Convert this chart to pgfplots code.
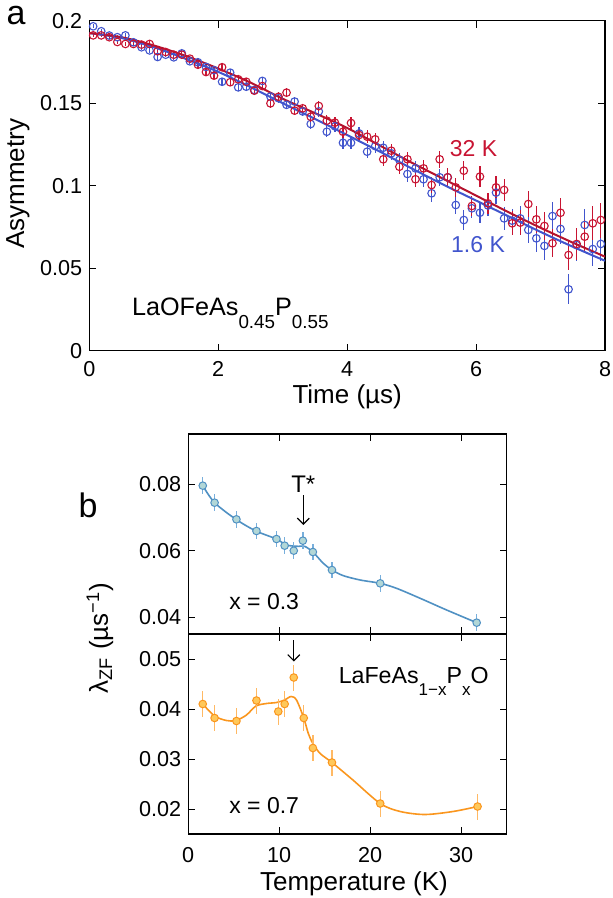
\documentclass[border=0pt]{standalone}
\usepackage{fontspec}
\setmainfont{Liberation Sans}
\usepackage{pgfplots}
\usepackage{pgfplotstable}
\pgfplotsset{compat=1.18}
\usetikzlibrary{arrows.meta}

\definecolor{redA}{RGB}{200,20,50}
\definecolor{blueA}{RGB}{65,85,205}
\definecolor{tealB}{RGB}{80,145,195}
\definecolor{tealbar}{RGB}{120,175,220}
\definecolor{tealfill}{RGB}{178,215,215}
\definecolor{orangeB}{RGB}{250,150,30}
\definecolor{orangebar}{RGB}{255,185,100}
\definecolor{orangefill}{RGB}{255,200,90}

\newcommand\sub[1]{\raisebox{-6.5pt}{\fontsize{9.4}{10}\selectfont #1}}
\newcommand\subb[1]{\raisebox{-6pt}{\fontsize{8.5}{9}\selectfont #1}}

% muSR asymmetry, 1.6 K (b) and 32 K (r), error e
\pgfplotstableread{
t b r e
0.060 0.1966 0.1911 0.0012
0.185 0.1936 0.1911 0.0012
0.310 0.1910 0.1900 0.0013
0.435 0.1900 0.1871 0.0013
0.560 0.1911 0.1859 0.0014
0.685 0.1869 0.1859 0.0014
0.810 0.1839 0.1855 0.0015
0.935 0.1820 0.1859 0.0015
1.060 0.1780 0.1815 0.0016
1.185 0.1794 0.1810 0.0017
1.310 0.1778 0.1794 0.0017
1.435 0.1802 0.1794 0.0018
1.560 0.1754 0.1770 0.0018
1.685 0.1748 0.1733 0.0019
1.810 0.1720 0.1689 0.0020
1.935 0.1700 0.1667 0.0020
2.060 0.1630 0.1718 0.0021
2.185 0.1685 0.1627 0.0022
2.310 0.1596 0.1645 0.0023
2.435 0.1600 0.1630 0.0023
2.560 0.1580 0.1576 0.0024
2.685 0.1635 0.1604 0.0025
2.810 0.1540 0.1499 0.0026
2.935 0.1530 0.1539 0.0027
3.060 0.1490 0.1564 0.0027
3.185 0.1510 0.1455 0.0028
3.310 0.1450 0.1469 0.0029
3.435 0.1374 0.1418 0.0030
3.560 0.1450 0.1483 0.0031
3.685 0.1327 0.1394 0.0032
3.810 0.1360 0.1382 0.0034
3.935 0.1260 0.1327 0.0035
4.060 0.1260 0.1380 0.0036
4.185 0.1317 0.1307 0.0037
4.310 0.1206 0.1297 0.0038
4.435 0.1240 0.1281 0.0040
4.560 0.1230 0.1160 0.0041
4.685 0.1196 0.1212 0.0043
4.810 0.1156 0.1115 0.0044
4.935 0.1071 0.1160 0.0046
5.060 0.1105 0.1039 0.0047
5.185 0.1039 0.1105 0.0049
5.310 0.0954 0.1004 0.0051
5.435 0.1051 0.1160 0.0052
5.560 0.1051 0.1051 0.0054
5.685 0.0883 0.0990 0.0056
5.810 0.0792 0.1091 0.0058
5.935 0.0863 0.0877 0.0060
6.060 0.0836 0.1055 0.0062
6.185 0.0880 0.0893 0.0065
6.310 0.0958 0.0990 0.0067
6.435 0.0802 0.0974 0.0069
6.560 0.0788 0.0772 0.0072
6.685 0.0802 0.0776 0.0074
6.810 0.0732 0.0889 0.0077
6.935 0.0681 0.0796 0.0080
7.060 0.0635 0.0756 0.0083
7.185 0.0816 0.0651 0.0085
7.310 0.0738 0.0836 0.0089
7.435 0.0372 0.0580 0.0092
7.560 0.0640 0.0647 0.0095
7.685 0.0762 0.0691 0.0099
7.810 0.0616 0.0772 0.0102
7.935 0.0647 0.0792 0.0106
}\muSR

% fitted curves
\pgfplotstableread{
t r b
0.0 0.1925 0.1925
0.5 0.1900 0.1895
1.0 0.1850 0.1840
1.5 0.1786 0.1768
2.0 0.1710 0.1690
2.5 0.1625 0.1598
3.0 0.1527 0.1500
3.5 0.1440 0.1405
4.0 0.1350 0.1307
4.5 0.1245 0.1208
5.0 0.1140 0.1105
5.5 0.1040 0.1005
6.0 0.0940 0.0910
6.5 0.0840 0.0815
7.0 0.0745 0.0720
7.5 0.0655 0.0630
8.0 0.0570 0.0545
}\muFit

% lambda_ZF, x = 0.3
\pgfplotstableread{
T lam err
1.6  0.0795 0.0025
2.9  0.0744 0.0025
5.3  0.0694 0.0025
7.5  0.0659 0.0025
9.7  0.0635 0.0025
10.6 0.0615 0.0025
11.6 0.0600 0.0025
12.6 0.0630 0.0025
13.7 0.0596 0.0025
15.8 0.0542 0.0025
21.1 0.0502 0.0025
31.7 0.0384 0.0025
}\lamA

\pgfplotstableread{
T lam
1.6  0.0795
2.9  0.0744
5.25 0.0694
7.45 0.0659
9.7  0.0635
10.8 0.0617
12.1 0.0613
12.8 0.0613
13.7 0.0596
14.85 0.0562
15.8 0.0542
17.05 0.0525
18.9 0.0512
21.1 0.0502
22.9 0.0487
25.5 0.0457
28.4 0.0422
31.7 0.0384
}\fitA

% lambda_ZF, x = 0.7
\pgfplotstableread{
T lam err
1.6  0.0410 0.0026
2.9  0.0382 0.0026
5.3  0.0376 0.0026
7.5  0.0417 0.0026
9.9  0.0395 0.0026
10.6 0.0410 0.0026
11.6 0.0463 0.0026
12.7 0.0382 0.0026
13.7 0.0322 0.0026
15.8 0.0293 0.0026
21.1 0.0211 0.0026
31.8 0.0205 0.0026
}\lamB

\pgfplotstableread{
T lam
1.6  0.0410
2.9  0.0386
4.2  0.0377
5.25 0.0377
6.4  0.0388
7.45 0.0406
8.6  0.0411
9.7  0.0413
10.6 0.0418
11.3 0.0425
11.9 0.0418
12.7 0.0382
13.2 0.0351
13.7 0.0331
14.5 0.0311
15.8 0.0293
18.1 0.0258
21.1 0.0211
23.3 0.0195
26.0 0.0189
29.1 0.0195
31.8 0.0205
}\fitB

\pgfplotsset{
  mybox/.style={
    scale only axis,
    axis line style={line width=0.6pt},
    tick align=inside,
    major tick length=3.5pt,
    tick style={line width=0.5pt, black},
    ticklabel style={font=\fontsize{10.8}{12}\selectfont},
    /pgf/number format/assume math mode=true,
    scaled ticks=false,
  },
}

\begin{document}
\begin{tikzpicture}[x=1pt,y=1pt]
\useasboundingbox (0,0) rectangle (306.5,-449);

% ---------- panel a ----------
\begin{axis}[mybox,
  at={(44.65pt,-175.35pt)}, anchor=south west,
  width=257.85pt, height=165pt,
  xmin=0, xmax=8, ymin=0, ymax=0.2,
  xtick={0,2,4,6,8},
  ytick={0,0.05,0.1,0.15,0.2},
  yticklabel style={/pgf/number format/fixed},
  xticklabel style={yshift=-2pt},
]
\addplot[only marks, mark=o, mark size=1.9pt, blueA, line width=0.55pt,
  mark options={fill=white},
  error bars/.cd, y dir=both, y explicit, error mark=none,
  error bar style={line width=0.6pt, blueA}]
  table[x=t, y=b, y error=e] {\muSR};
\addplot[only marks, mark=o, mark size=1.9pt, redA, line width=0.55pt,
  mark options={fill=white},
  error bars/.cd, y dir=both, y explicit, error mark=none,
  error bar style={line width=0.6pt, redA}]
  table[x=t, y=r, y error=e] {\muSR};
\addplot[blueA, line width=1pt, smooth] table[x=t, y=b] {\muFit};
\addplot[redA!90!black, line width=1pt, smooth] table[x=t, y=r] {\muFit};
\node[redA, font=\fontsize{11.5}{13}\selectfont] at (axis cs:5.96,0.1222) {32 K};
\node[blueA, font=\fontsize{11.5}{13}\selectfont] at (axis cs:6.03,0.0641) {1.6 K};
\node[anchor=base west, inner sep=0, font=\fontsize{12.6}{14}\selectfont]
  at (axis cs:0.657,0.0216) {LaOFeAs\sub{0.45}P\sub{0.55}};
\end{axis}

% ---------- panel b, x = 0.3 ----------
\begin{axis}[mybox,
  at={(94.1pt,-317pt)}, anchor=south west,
  width=159.25pt, height=100pt,
  xmin=0, xmax=35, ymin=0.035, ymax=0.095,
  xtick={0,10,20,30}, xticklabels={},
  ytick={0.04,0.06,0.08},
  yticklabel style={/pgf/number format/fixed, /pgf/number format/precision=2},
]
\addplot[tealB, line width=0.8pt, smooth] table[x=T, y=lam] {\fitA};
\addplot[only marks, mark=*, mark size=1.9pt,
  mark options={fill=tealfill, draw=tealB, line width=0.5pt},
  error bars/.cd, y dir=both, y explicit, error mark=none,
  error bar style={line width=0.7pt, tealbar}]
  table[x=T, y=lam, y error=err] {\lamA};
\draw[-{Straight Barb[length=3pt,width=6pt]}, line width=0.6pt]
  (axis cs:12.65,0.0767) -- (axis cs:12.65,0.0677);
\node[anchor=south, inner sep=1pt, font=\fontsize{12}{13}\selectfont]
  at (axis cs:12.65,0.0767) {T*};
\node[font=\fontsize{11.5}{13}\selectfont] at (axis cs:8.35,0.0446) {x = 0.3};
\end{axis}

% ---------- panel b, x = 0.7 ----------
\begin{axis}[mybox,
  at={(94.1pt,-417pt)}, anchor=south west,
  width=159.25pt, height=100pt,
  xmin=0, xmax=35, ymin=0.015, ymax=0.055,
  xtick={0,10,20,30},
  ytick={0.02,0.03,0.04,0.05},
  yticklabel style={/pgf/number format/fixed, /pgf/number format/precision=2},
  xticklabel style={yshift=-3pt},
]
\addplot[orangeB, line width=0.8pt, smooth] table[x=T, y=lam] {\fitB};
\addplot[only marks, mark=*, mark size=1.9pt,
  mark options={fill=orangefill, draw=orangeB, line width=0.5pt},
  error bars/.cd, y dir=both, y explicit, error mark=none,
  error bar style={line width=0.7pt, orangebar}]
  table[x=T, y=lam, y error=err] {\lamB};
\draw[-{Straight Barb[length=3pt,width=6pt]}, line width=0.6pt]
  (axis cs:11.6,0.0538) -- (axis cs:11.6,0.0495);
\node[anchor=base west, inner sep=0, font=\fontsize{11.6}{13}\selectfont]
  at (axis cs:16.5,0.0452) {LaFeAs\subb{1\textminus x}P\subb{x}O};
\node[font=\fontsize{11.5}{13}\selectfont] at (axis cs:8.35,0.0207) {x = 0.7};
\end{axis}

% ---------- labels ----------
\node[font=\fontsize{17}{18}\selectfont] at (8,-8) {a};
\node[font=\fontsize{17}{18}\selectfont] at (44,-252.5) {b};
\node[rotate=90, font=\fontsize{13}{15}\selectfont] at (9,-92) {Asymmetry};
\node[anchor=north, inner sep=0, font=\fontsize{13}{15}\selectfont] at (173.6,-192.2) {Time (µs)};
\node[rotate=90, font=\fontsize{13}{15}\selectfont] at (50,-319)
  {λ\textsubscript{ZF} (µs\textsuperscript{\textminus1})};
\node[font=\fontsize{13}{15}\selectfont] at (177,-442) {Temperature (K)};
\end{tikzpicture}
\end{document}
